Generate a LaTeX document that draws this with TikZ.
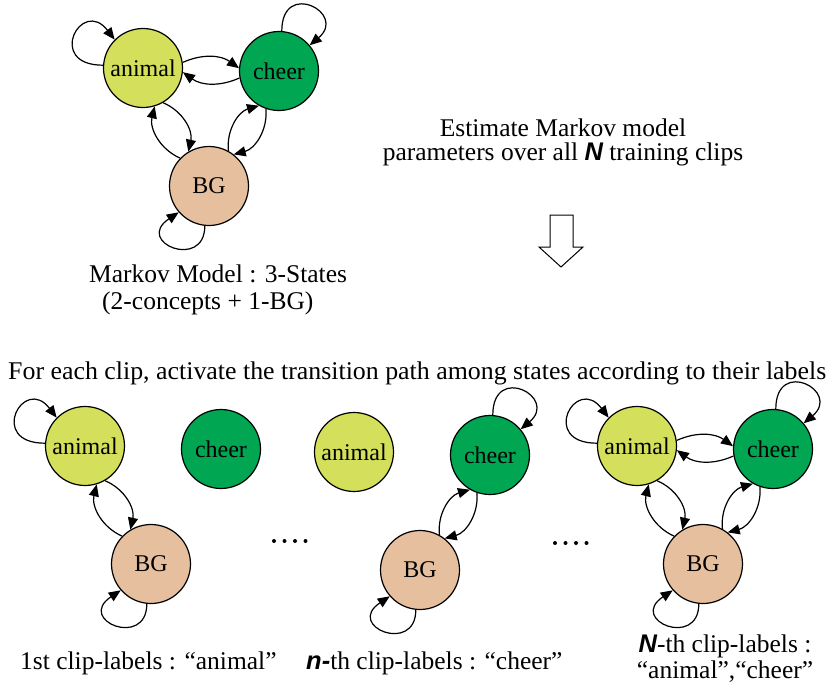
\documentclass[tikz,border=0pt]{standalone}
\usepackage{fontspec}
\setmainfont{Liberation Serif}
\newfontfamily\arialf{Liberation Sans}
\usetikzlibrary{arrows.meta}
\definecolor{animalc}{RGB}{212,224,92}
\definecolor{cheerc}{RGB}{0,166,81}
\definecolor{bgc}{RGB}{230,191,158}
\newcommand\BN[1]{{\arialf\bfseries\itshape #1}}
\begin{document}
\begin{tikzpicture}[x=1pt,y=-1pt,
  state/.style={circle,draw,line width=1.2pt,minimum size=79pt,inner sep=0pt,font=\fontsize{24}{24}\selectfont},
  an/.style={state,fill=animalc},
  ch/.style={state,fill=cheerc},
  bgs/.style={state,fill=bgc},
  tr/.style={line width=1.2pt,-{Triangle[length=12pt,width=10pt]}},
  lbl/.style={anchor=base west,inner sep=0pt,font=\fontsize{25.5}{25.5}\selectfont},
  dotm/.style={circle,fill=black,inner sep=0pt,minimum size=4pt},
  hollow/.style={draw,line width=1pt,fill=white},
]
\useasboundingbox (0,0) rectangle (828,691);

% ---------- top model ----------
\begin{scope}[name prefix=t-]
\node[an] (A) at (143,68) {animal};
\node[ch] (C) at (279,71) {cheer};
\node[bgs] (B) at (209,186) {BG};
\draw[tr] (A.176) .. controls +(-58,0) and +(-33,-43) .. (A.135);
\draw[tr] (C.86) .. controls +(0,-52) and +(38,-32) .. (C.40);
\draw[tr] (B.264) .. controls +(0,45) and +(-45,30) .. (B.221);
\draw[tr] (A.8) to[bend left=30] (C.176);
\draw[tr] (C.190) to[bend left=30] (A.354);
\draw[tr] (B.136) to[bend left=40] (A.287);
\draw[tr] (A.300) to[bend left=40] (B.121);
\draw[tr] (B.61) to[bend left=40] (C.240);
\draw[tr] (C.251) to[bend left=40] (B.52);
\end{scope}

% ---------- clip 1 ----------
\begin{scope}[shift={(-58,378)},name prefix=d1-]
\node[an] (A) at (143,68) {animal};
\node[ch] (C) at (279,71) {cheer};
\node[bgs] (B) at (209,186) {BG};
\draw[tr] (A.176) .. controls +(-58,0) and +(-33,-43) .. (A.135);
\draw[tr] (B.264) .. controls +(0,45) and +(-45,30) .. (B.221);
\draw[tr] (B.136) to[bend left=40] (A.287);
\draw[tr] (A.300) to[bend left=40] (B.121);
\end{scope}

% ---------- clip n ----------
\begin{scope}[shift={(211,384)},name prefix=d2-]
\node[an] (A) at (143,68) {animal};
\node[ch] (C) at (279,71) {cheer};
\node[bgs] (B) at (209,186) {BG};
\draw[tr] (C.86) .. controls +(0,-52) and +(38,-32) .. (C.40);
\draw[tr] (B.264) .. controls +(0,45) and +(-45,30) .. (B.221);
\draw[tr] (B.61) to[bend left=40] (C.240);
\draw[tr] (C.251) to[bend left=40] (B.52);
\end{scope}

% ---------- clip N ----------
\begin{scope}[shift={(494,378)},name prefix=d3-]
\node[an] (A) at (143,68) {animal};
\node[ch] (C) at (279,71) {cheer};
\node[bgs] (B) at (209,186) {BG};
\draw[tr] (A.176) .. controls +(-58,0) and +(-33,-43) .. (A.135);
\draw[tr] (C.86) .. controls +(0,-52) and +(38,-32) .. (C.40);
\draw[tr] (B.264) .. controls +(0,45) and +(-45,30) .. (B.221);
\draw[tr] (A.8) to[bend left=30] (C.176);
\draw[tr] (C.190) to[bend left=30] (A.354);
\draw[tr] (B.136) to[bend left=40] (A.287);
\draw[tr] (A.300) to[bend left=40] (B.121);
\draw[tr] (B.61) to[bend left=40] (C.240);
\draw[tr] (C.251) to[bend left=40] (B.52);
\end{scope}

% ---------- texts ----------
\node[lbl] (mm1) at (89,282) {Markov Model : 3-States};
\node[lbl] (mm2) at (102,309) {(2-concepts + 1-BG)};
\node[anchor=base,inner sep=0pt,align=center,font=\fontsize{25.5}{24}\selectfont] (es) at (563,160)
  {Estimate Markov model\\parameters over all \BN{N} training clips};
\node[lbl] (fe) at (8,379) {\resizebox{818pt}{\height}{For each clip, activate the transition path among states according to their labels}};
\node[lbl] (l1) at (20,669) {1st clip-labels : “animal”};
\node[lbl] (l2) at (306,669) {\BN{n-}th clip-labels : “cheer”};
\node[anchor=base,inner sep=0pt,align=center,font=\fontsize{25.5}{26}\selectfont] (l3) at (725,678)
  {\BN{N}-th clip-labels :\\“animal”,“cheer”};

% hollow arrow
\draw[hollow] (550,215) -- (573,215) -- (573,247) -- (583,247) -- (561,267) -- (539,247) -- (550,247) -- cycle;

% dots
\foreach \i/\xx in {1/274,2/284.5,3/295,4/305.5} {\node[dotm] (da\i) at (\xx,541) {};}
\foreach \i/\xx in {1/555,2/565.5,3/576,4/586.5} {\node[dotm] (db\i) at (\xx,543) {};}
\end{tikzpicture}
\end{document}
